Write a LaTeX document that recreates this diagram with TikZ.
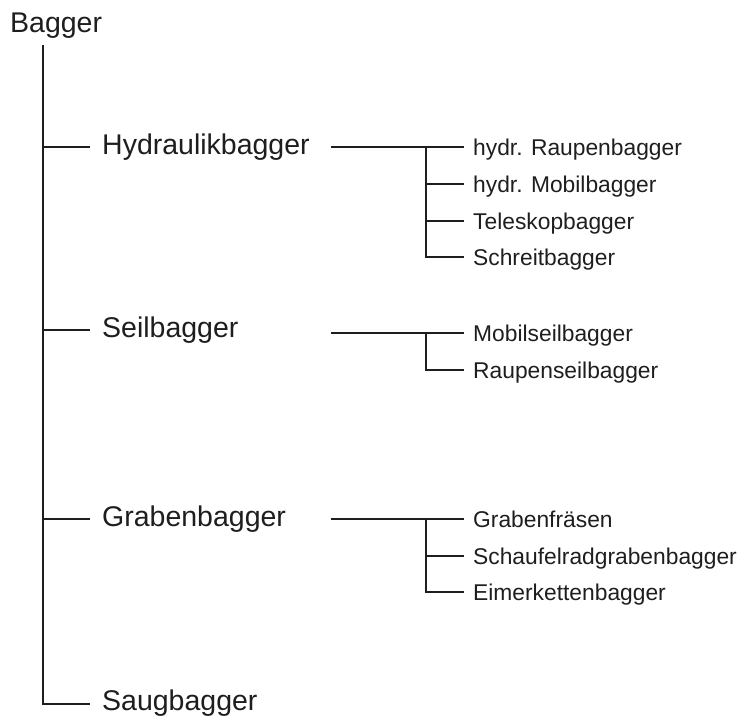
\documentclass[tikz,border=0pt]{standalone}
\usepackage{fontspec}
\setmainfont{Liberation Sans}
\definecolor{ink}{HTML}{1E1E1E}
\begin{document}
\begin{tikzpicture}[x=1pt,y=-1pt,
  link/.style={draw=ink,line width=1.3pt},
  bigtxt/.style={anchor=base west,inner sep=0pt,text=ink,font=\fontsize{28.5}{30}\selectfont},
  smalltxt/.style={anchor=base west,inner sep=0pt,text=ink,font=\fontsize{22.8}{24}\selectfont}]
\useasboundingbox (0,0) rectangle (744,717);
% root
\node[bigtxt] (root) at (10,33) {Bagger};
\coordinate (top) at (43,45);
% main branches
\coordinate (hydL) at (90,147);
\node[bigtxt] (hyd) at (102,154) {Hydraulikbagger};
\coordinate (seilL) at (90,330);
\node[bigtxt] (seil) at (102,337) {Seilbagger};
\coordinate (grabL) at (90,519);
\node[bigtxt] (grab) at (102,526) {Grabenbagger};
\coordinate (saugL) at (90,704);
\node[bigtxt] (saug) at (102,710) {Saugbagger};
\draw[link] (top) |- (saugL);
\draw[link] (top |- hydL) -- (hydL);
\draw[link] (top |- seilL) -- (seilL);
\draw[link] (top |- grabL) -- (grabL);
% Hydraulik children
\coordinate (hydR) at (331,147);
\coordinate (hydJ) at (426,147);
\coordinate (h1) at (464,147);
\coordinate (h2) at (464,184);
\coordinate (h3) at (464,221);
\coordinate (h4) at (464,257);
\node[smalltxt] (h1t) at (473,155) {hydr. Raupenbagger};
\node[smalltxt] (h2t) at (473,192) {hydr. Mobilbagger};
\node[smalltxt] (h3t) at (473,229) {Teleskopbagger};
\node[smalltxt] (h4t) at (473,265) {Schreitbagger};
\draw[link] (hydR) -- (h1);
\draw[link] (hydJ) |- (h4);
\draw[link] (hydJ |- h2) -- (h2);
\draw[link] (hydJ |- h3) -- (h3);
% Seil children
\coordinate (seilR) at (331,333);
\coordinate (seilJ) at (426,333);
\coordinate (s1) at (464,333);
\coordinate (s2) at (464,370);
\node[smalltxt] (s1t) at (473,341) {Mobilseilbagger};
\node[smalltxt] (s2t) at (473,378) {Raupenseilbagger};
\draw[link] (seilR) -- (s1);
\draw[link] (seilJ) |- (s2);
% Graben children
\coordinate (grabR) at (331,519);
\coordinate (grabJ) at (426,519);
\coordinate (g1) at (464,519);
\coordinate (g2) at (464,556);
\coordinate (g3) at (464,592);
\node[smalltxt] (g1t) at (473,527) {Grabenfräsen};
\node[smalltxt] (g2t) at (473,564) {Schaufelradgrabenbagger};
\node[smalltxt] (g3t) at (473,600) {Eimerkettenbagger};
\draw[link] (grabR) -- (g1);
\draw[link] (grabJ) |- (g3);
\draw[link] (grabJ |- g2) -- (g2);
\end{tikzpicture}
\end{document}
